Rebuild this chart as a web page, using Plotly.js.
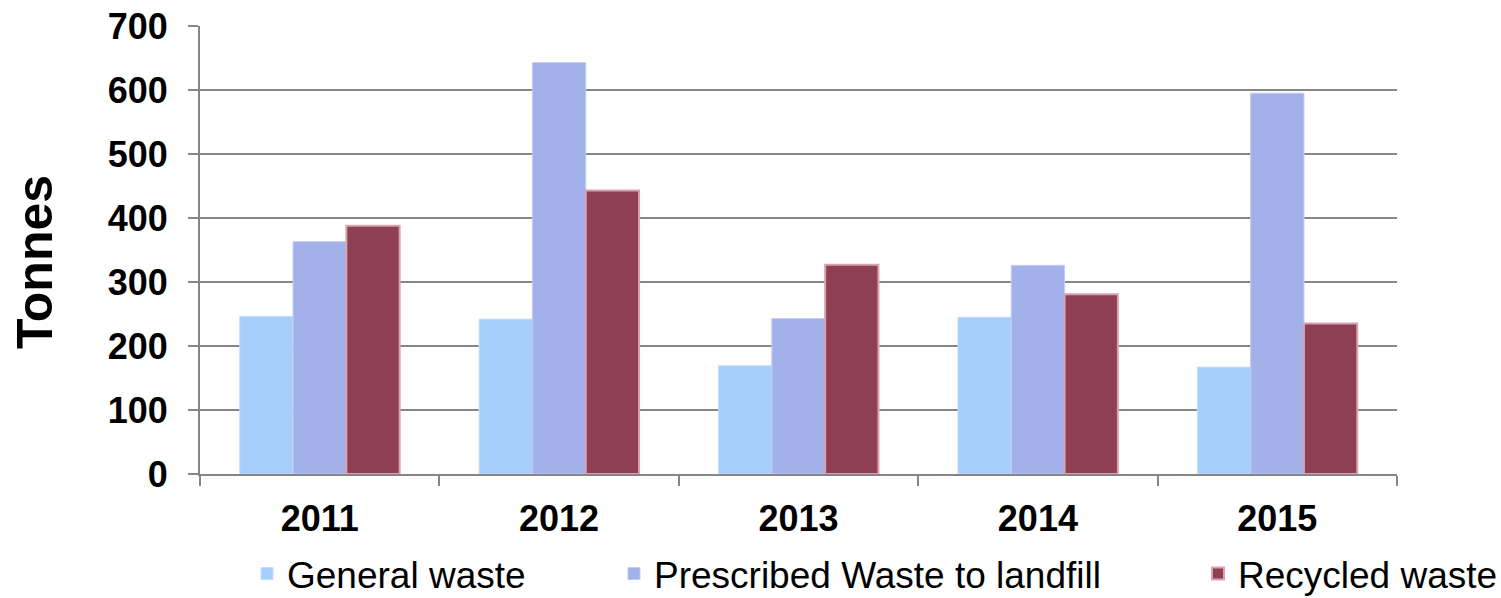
<!DOCTYPE html>
<html>
<head>
<meta charset="utf-8">
<script src="https://cdn.plot.ly/plotly-3.0.1.min.js"></script>
<style>html,body{margin:0;padding:0;background:#fff;}#chart{width:1501px;height:598px;}</style>
</head>
<body>
<div id="chart"></div>
<script>
var years = ['2011', '2012', '2013', '2014', '2015'];
var generalWaste = [246, 242, 169, 245, 167];
var prescribedWaste = [363, 643, 243, 326, 595];
var recycledWaste = [388, 443, 327, 281, 235];
var seriesNames = ['General waste', 'Prescribed Waste to landfill', 'Recycled waste'];
var yTicks = [0, 100, 200, 300, 400, 500, 600, 700];
var yTitle = 'Tonnes';

var FONT = 'Liberation Sans, Arial, sans-serif';

var traces = [
  {type: 'bar', x: years, y: generalWaste, name: seriesNames[0], legend: 'legend',
   marker: {color: '#A6CEFC', line: {color: '#C6DEFB', width: 1}}},
  {type: 'bar', x: years, y: prescribedWaste, name: seriesNames[1], legend: 'legend2',
   marker: {color: '#A3B1EA', line: {color: '#C2CCF1', width: 1}}},
  {type: 'bar', x: years, y: recycledWaste, name: seriesNames[2], legend: 'legend3',
   marker: {color: '#8F3F53', line: {color: '#D9A2B0', width: 2}}}
];

function leg(x) {
  return {orientation: 'h', x: x, xanchor: 'left', y: (474 - 605) / 448, yanchor: 'bottom',
          font: {family: FONT, size: 37, color: '#000'}, bgcolor: 'rgba(0,0,0,0)',
          borderwidth: 0, itemclick: false};
}

var layout = {
  width: 1501, height: 598,
  margin: {l: 200, r: 104, t: 26, b: 124, autoexpand: false},
  paper_bgcolor: '#fff', plot_bgcolor: '#fff',
  font: {family: FONT, color: '#000'},
  barmode: 'group', bargap: 0.332, bargroupgap: 0,
  showlegend: true,
  legend: leg((247 - 200) / 1197),
  legend2: leg((614 - 200) / 1197),
  legend3: leg((1198 - 200) / 1197),
  xaxis: {
    type: 'category', showline: true, linecolor: '#868686', linewidth: 2,
    ticks: 'outside', tickson: 'boundaries', ticklen: 10, tickwidth: 2, tickcolor: '#868686',
    tickfont: {family: FONT, size: 36, color: '#000', weight: 'bold'},
    ticklabelstandoff: 12, showgrid: false, zeroline: false, automargin: false
  },
  yaxis: {
    range: [0, 700], tickvals: yTicks, showline: true, linecolor: '#868686', linewidth: 2,
    ticks: 'outside', ticklen: 10, tickwidth: 2, tickcolor: '#868686',
    showgrid: true, gridcolor: '#868686', gridwidth: 2, zeroline: false,
    tickfont: {family: FONT, size: 36, color: '#000', weight: 'bold'},
    ticklabelstandoff: 13, automargin: false
  },
  annotations: [{
    text: yTitle, xref: 'paper', yref: 'paper', x: (35 - 200) / 1197, y: (474 - 262) / 448,
    xanchor: 'center', yanchor: 'middle', textangle: -90, showarrow: false,
    font: {family: FONT, size: 50, color: '#000', weight: 'bold'}
  }]
};

Plotly.newPlot('chart', traces, layout, {staticPlot: true, displayModeBar: false});
</script>
</body>
</html>
